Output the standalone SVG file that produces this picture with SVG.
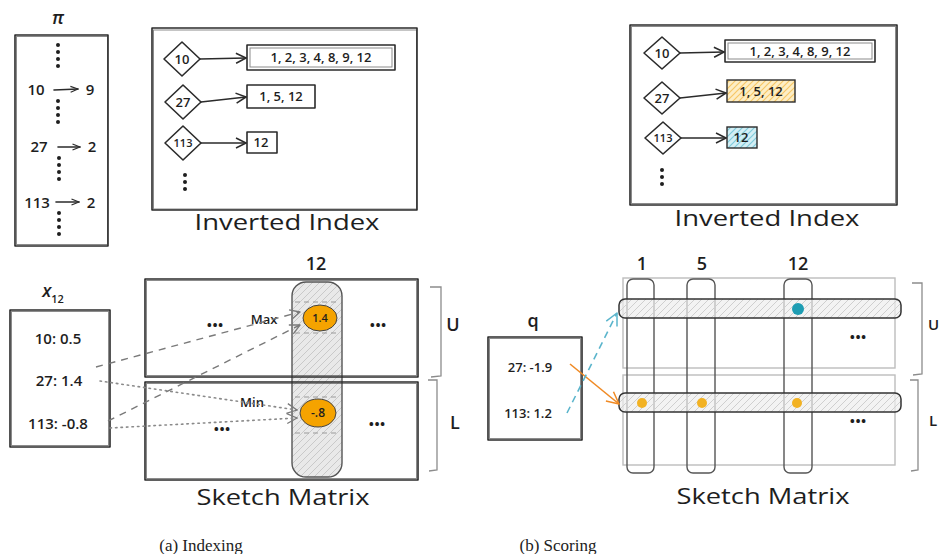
<svg xmlns="http://www.w3.org/2000/svg" width="942" height="554" viewBox="0 0 942 554">
  <defs>
    <style>
      .ln { stroke: #2b2b2b; stroke-width: 1.6; fill: none; stroke-linejoin: round; stroke-linecap: round; }
      .ln2 { stroke: #2b2b2b; stroke-width: 1; fill: none; opacity: 0.55; }
      .lg { stroke: #bdbdbd; stroke-width: 1.4; fill: none; }
      .hand { font-family: "Open Sans", "Liberation Sans", sans-serif; fill: #1e1e1e; font-weight: 600; }
      .t13 { font-size: 13px; }
      .t15 { font-size: 15px; }
      .t18 { font-size: 18px; }
      .title { font-size: 21px; font-weight: 500; }
      .dot { fill: #1e1e1e; }
      .cap { font-family: "Liberation Serif", "DejaVu Serif", serif; font-size: 17px; fill: #222; }
      .dash { stroke: #7a7a7a; stroke-width: 1.4; stroke-dasharray: 7 6; fill: none; }
      .dotted { stroke: #8a8a8a; stroke-width: 1.6; stroke-dasharray: 1.5 4; stroke-linecap: round; fill: none; }
      .tick { stroke: #9a9a9a; stroke-width: 1.2; stroke-dasharray: 5 4; }
      .brk { stroke: #8c8c8c; stroke-width: 1.3; fill: none; }
    </style>
    <pattern id="hatch" patternUnits="userSpaceOnUse" width="7" height="7">
      <rect width="7" height="7" fill="#e9e9e9"/>
      <path d="M0,7 L7,0 M-1,1 L1,-1 M6,8 L8,6" stroke="#c9c9c9" stroke-width="1"/>
    </pattern>
    <pattern id="hatchBar" patternUnits="userSpaceOnUse" width="7" height="7">
      <rect width="7" height="7" fill="#eeeeee" fill-opacity="0.7"/>
      <path d="M0,7 L7,0 M-1,1 L1,-1 M6,8 L8,6" stroke="#cfcfcf" stroke-width="1"/>
    </pattern>
    <pattern id="hatchOrange" patternUnits="userSpaceOnUse" width="6" height="6">
      <rect width="6" height="6" fill="#fdeec6"/>
      <path d="M0,6 L6,0 M-1,1 L1,-1 M5,7 L7,5" stroke="#f7c765" stroke-width="1.2"/>
    </pattern>
    <pattern id="hatchCyan" patternUnits="userSpaceOnUse" width="6" height="6">
      <rect width="6" height="6" fill="#d3eef4"/>
      <path d="M0,6 L6,0 M-1,1 L1,-1 M5,7 L7,5" stroke="#7fcbdc" stroke-width="1.2"/>
    </pattern>
    <marker id="arrow" viewBox="0 0 12 12" refX="11" refY="6" markerWidth="12" markerHeight="12" markerUnits="userSpaceOnUse" orient="auto">
      <path d="M1,1 L11,6 L1,11" fill="none" stroke="#2b2b2b" stroke-width="1.5" stroke-linejoin="round"/>
    </marker>
    <marker id="arrowSmall" viewBox="0 0 12 12" refX="11" refY="6" markerWidth="9" markerHeight="9" markerUnits="userSpaceOnUse" orient="auto">
      <path d="M1,2 L11,6 L1,10" fill="none" stroke="#2b2b2b" stroke-width="1.6" stroke-linejoin="round"/>
    </marker>
    <marker id="arrowGrey" viewBox="0 0 12 12" refX="11" refY="6" markerWidth="12" markerHeight="12" markerUnits="userSpaceOnUse" orient="auto">
      <path d="M1,1 L11,6 L1,11" fill="none" stroke="#7a7a7a" stroke-width="1.3" stroke-linejoin="round"/>
    </marker>
    <marker id="arrowOrange" viewBox="0 0 14 14" refX="13" refY="7" markerWidth="14" markerHeight="14" markerUnits="userSpaceOnUse" orient="auto">
      <path d="M1,1 L13,7 L1,13" fill="none" stroke="#f08a24" stroke-width="1.5" stroke-linejoin="round"/>
    </marker>
    <marker id="arrowCyan" viewBox="0 0 14 14" refX="13" refY="7" markerWidth="14" markerHeight="14" markerUnits="userSpaceOnUse" orient="auto">
      <path d="M1,1 L13,7 L1,13" fill="none" stroke="#5bb5cc" stroke-width="1.5" stroke-linejoin="round"/>
    </marker>
  </defs>

  <rect width="942" height="554" fill="#ffffff"/>

  <!-- ========== (a) Indexing ========== -->

  <!-- permutation pi -->
  <g id="pi-table">
    <text class="hand t18" x="58" y="24" text-anchor="middle" font-style="italic">π</text>
    <rect class="ln" x="15" y="35" width="93" height="211"/>
    <rect class="ln2" x="16.5" y="36.5" width="91" height="208"/>
    <g class="dot">
      <circle cx="58" cy="45" r="2"/><circle cx="58" cy="52" r="2"/><circle cx="58" cy="59" r="2"/><circle cx="58" cy="66" r="2"/>
      <circle cx="58" cy="101" r="2"/><circle cx="58" cy="108" r="2"/><circle cx="58" cy="115" r="2"/><circle cx="58" cy="122" r="2"/>
      <circle cx="59" cy="158" r="2"/><circle cx="59" cy="165" r="2"/><circle cx="59" cy="172" r="2"/><circle cx="59" cy="179" r="2"/>
      <circle cx="59" cy="213" r="2"/><circle cx="59" cy="220" r="2"/><circle cx="59" cy="227" r="2"/><circle cx="59" cy="234" r="2"/>
    </g>
    <text class="hand t15" x="36" y="95" text-anchor="middle">10</text>
    <line class="ln" x1="54" y1="90" x2="78" y2="89" marker-end="url(#arrowSmall)"/>
    <text class="hand t15" x="90" y="95" text-anchor="middle">9</text>
    <text class="hand t15" x="39" y="152" text-anchor="middle">27</text>
    <line class="ln" x1="58" y1="147" x2="80" y2="147" marker-end="url(#arrowSmall)"/>
    <text class="hand t15" x="92" y="152" text-anchor="middle">2</text>
    <text class="hand t15" x="37" y="208" text-anchor="middle">113</text>
    <line class="ln" x1="56" y1="202" x2="79" y2="202" marker-end="url(#arrowSmall)"/>
    <text class="hand t15" x="91" y="208" text-anchor="middle">2</text>
  </g>

  <!-- inverted index (a) -->
  <g id="inverted-index-a">
    <rect class="ln" x="152" y="28" width="265" height="182"/>
    <rect class="ln2" x="153.5" y="30" width="263" height="179"/>
    <text class="hand title" x="287" y="230" text-anchor="middle" textLength="185" lengthAdjust="spacingAndGlyphs">Inverted Index</text>
  </g>
  <g id="key-10-a">
    <polygon class="ln" points="164,59 182,42 200,59 182,76"/>
    <text class="hand t13" x="182" y="64" text-anchor="middle">10</text>
  </g>
  <g id="key-27-a">
    <polygon class="ln" points="165,102 183,85 201,102 183,119"/>
    <text class="hand t13" x="183" y="107" text-anchor="middle">27</text>
  </g>
  <g id="key-113-a">
    <polygon class="ln" points="165,143 183,126 201,143 183,160"/>
    <text class="hand" font-size="11" x="183" y="147" text-anchor="middle">113</text>
  </g>
  <g id="list-10-a">
    <rect class="ln" x="247" y="45" width="148" height="25"/>
    <rect class="ln2" x="250" y="48" width="142" height="19"/>
    <text class="hand t13" x="321" y="62" text-anchor="middle">1, 2, 3, 4, 8, 9, 12</text>
  </g>
  <g id="list-27-a">
    <rect class="ln" x="247" y="85" width="68" height="23"/>
    <text class="hand t13" x="281" y="101" text-anchor="middle">1, 5, 12</text>
  </g>
  <g id="list-113-a">
    <rect class="ln" x="247" y="132" width="30" height="21"/>
    <text class="hand t13" x="261" y="147" text-anchor="middle">12</text>
  </g>
  <g id="more-a" class="dot">
    <circle cx="185" cy="175" r="2"/><circle cx="185" cy="182" r="2"/><circle cx="185" cy="189" r="2"/>
  </g>

  <!-- sketch x_12 -->
  <g id="x12-table">
    <text class="hand t18" x="53" y="297" text-anchor="middle" font-style="italic">x<tspan font-size="11" dy="6" font-style="normal">12</tspan></text>
    <rect class="ln" x="10" y="310" width="100" height="137"/>
    <rect class="ln2" x="11.5" y="311.5" width="97" height="134"/>
    <text class="hand t15" x="58" y="344" text-anchor="middle">10: 0.5</text>
    <text class="hand t15" x="59" y="386" text-anchor="middle">27: 1.4</text>
    <text class="hand t15" x="58" y="429" text-anchor="middle">113: -0.8</text>
  </g>

  <!-- sketch matrix (a) -->
  <g id="sketch-matrix-a">
    <text class="hand t18" x="316" y="270" text-anchor="middle">12</text>
    <rect x="292" y="282" width="50" height="195" rx="14" fill="url(#hatch)" stroke="#555" stroke-width="1.4"/>
    <line class="tick" x1="295" y1="302" x2="340" y2="302"/>
    <line class="tick" x1="295" y1="333" x2="340" y2="333"/>
    <line class="tick" x1="295" y1="397" x2="340" y2="397"/>
    <line class="tick" x1="295" y1="433" x2="340" y2="433"/>
    <rect class="ln" x="145" y="279" width="273" height="98"/>
    <rect class="ln" x="145" y="382" width="273" height="98"/>
    <rect class="ln2" x="146.5" y="280.5" width="270" height="95"/>
    <rect class="ln2" x="146.5" y="383.5" width="270" height="95"/>
    <ellipse cx="320" cy="318" rx="17" ry="13" fill="#f5a300" stroke="#444" stroke-width="1"/>
    <text class="hand" font-size="11" x="320" y="322" text-anchor="middle">1.4</text>
    <ellipse cx="318" cy="413" rx="18" ry="14" fill="#f5a300" stroke="#444" stroke-width="1"/>
    <text class="hand" font-size="12" x="318" y="417" text-anchor="middle" font-weight="bold">-.8</text>
    <text class="hand t13" x="264" y="324" text-anchor="middle">Max</text>
    <text class="hand t13" x="252" y="407" text-anchor="middle">Min</text>
    <text class="hand t15" x="215" y="330" text-anchor="middle" font-weight="bold">•••</text>
    <text class="hand t15" x="378" y="330" text-anchor="middle" font-weight="bold">•••</text>
    <text class="hand t15" x="222" y="434" text-anchor="middle" font-weight="bold">•••</text>
    <text class="hand t15" x="377" y="429" text-anchor="middle" font-weight="bold">•••</text>
    <path class="brk" d="M430,287 L441,287 L441,376 L431,377"/>
    <path class="brk" d="M428,380 L437,380 L437,470 L429,471"/>
    <text class="hand t18" x="453" y="331" text-anchor="middle">U</text>
    <text class="hand t18" x="455" y="429" text-anchor="middle">L</text>
    <text class="hand title" x="283" y="505" text-anchor="middle" textLength="173" lengthAdjust="spacingAndGlyphs">Sketch Matrix</text>
  </g>

  <!-- ========== (b) Scoring ========== -->

  <!-- inverted index (b) -->
  <g id="inverted-index-b">
    <rect class="ln" x="630" y="25" width="267" height="180"/>
    <rect class="ln2" x="631.5" y="26.5" width="264" height="177"/>
    <text class="hand title" x="767" y="226" text-anchor="middle" textLength="185" lengthAdjust="spacingAndGlyphs">Inverted Index</text>
  </g>
  <g id="key-10-b">
    <polygon class="ln" points="644,53 662,37 680,53 662,69"/>
    <text class="hand t13" x="662" y="58" text-anchor="middle">10</text>
  </g>
  <g id="key-27-b">
    <polygon class="ln" points="644,98 662,82 680,98 662,114"/>
    <text class="hand t13" x="662" y="103" text-anchor="middle">27</text>
  </g>
  <g id="key-113-b">
    <polygon class="ln" points="645,138 663,122 681,138 663,154"/>
    <text class="hand" font-size="11" x="663" y="142" text-anchor="middle">113</text>
  </g>
  <g id="list-10-b">
    <rect class="ln" x="725" y="40" width="150" height="22"/>
    <rect class="ln2" x="728" y="43" width="144" height="16"/>
    <text class="hand t13" x="800" y="56" text-anchor="middle">1, 2, 3, 4, 8, 9, 12</text>
  </g>
  <g id="list-27-b">
    <rect x="727" y="80" width="68" height="22" fill="url(#hatchOrange)" stroke="#2b2b2b" stroke-width="1.4"/>
    <text class="hand t13" x="761" y="96" text-anchor="middle">1, 5, 12</text>
  </g>
  <g id="list-113-b">
    <rect x="727" y="127" width="30" height="21" fill="url(#hatchCyan)" stroke="#2b2b2b" stroke-width="1.4"/>
    <text class="hand t13" x="741" y="142" text-anchor="middle">12</text>
  </g>
  <g id="more-b" class="dot">
    <circle cx="662" cy="170" r="2"/><circle cx="662" cy="177" r="2"/><circle cx="662" cy="184" r="2"/>
  </g>

  <!-- query q -->
  <g id="query-table">
    <text class="hand t18" x="533" y="327" text-anchor="middle">q</text>
    <rect class="ln" x="488" y="337" width="94" height="103"/>
    <rect class="ln2" x="489.5" y="338.5" width="91" height="100"/>
    <text class="hand t13" x="530" y="372" text-anchor="middle">27: -1.9</text>
    <text class="hand t13" x="528" y="418" text-anchor="middle">113: 1.2</text>
  </g>

  <!-- sketch matrix (b) -->
  <g id="sketch-matrix-b">
    <rect class="lg" x="623" y="278" width="272" height="90"/>
    <rect class="lg" x="623" y="375" width="272" height="90"/>
    <text class="hand t18" x="642" y="270" text-anchor="middle">1</text>
    <text class="hand t18" x="702" y="270" text-anchor="middle">5</text>
    <text class="hand t18" x="798" y="270" text-anchor="middle">12</text>
    <rect x="627" y="279" width="27" height="194" rx="6" fill="none" stroke="#555" stroke-width="1.4"/>
    <rect x="687" y="279" width="28" height="194" rx="6" fill="none" stroke="#555" stroke-width="1.4"/>
    <rect x="784" y="279" width="28" height="194" rx="6" fill="none" stroke="#555" stroke-width="1.4"/>
    <rect x="619" y="299" width="282" height="19" rx="6" fill="url(#hatchBar)" stroke="#333" stroke-width="1.5"/>
    <rect x="619" y="393" width="282" height="19" rx="6" fill="url(#hatchBar)" stroke="#333" stroke-width="1.5"/>
    <circle cx="798" cy="309" r="6" fill="#1e9db3"/>
    <circle cx="642" cy="403" r="5" fill="#f2b223"/>
    <circle cx="702" cy="403" r="5" fill="#f2b223"/>
    <circle cx="797" cy="403" r="5" fill="#f2b223"/>
    <text class="hand t15" x="858" y="342" text-anchor="middle" font-weight="bold">•••</text>
    <text class="hand t15" x="858" y="426" text-anchor="middle" font-weight="bold">•••</text>
    <path class="brk" d="M912,283 L922,283 L922,374 L913,375"/>
    <path class="brk" d="M910,380 L918,380 L918,470 L911,471"/>
    <text class="hand" font-size="15" x="928" y="330">U</text>
    <text class="hand" font-size="15" x="929" y="426">L</text>
    <text class="hand title" x="763" y="504" text-anchor="middle" textLength="173" lengthAdjust="spacingAndGlyphs">Sketch Matrix</text>
  </g>

  <!-- connectors -->
  <g id="connectors">
    <line class="ln" x1="200" y1="59" x2="246" y2="58" marker-end="url(#arrow)"/>
    <line class="ln" x1="201" y1="102" x2="246" y2="97" marker-end="url(#arrow)"/>
    <line class="ln" x1="201" y1="143" x2="246" y2="143" marker-end="url(#arrow)"/>
    <line class="ln" x1="680" y1="53" x2="724" y2="52" marker-end="url(#arrow)"/>
    <line class="ln" x1="680" y1="98" x2="726" y2="93" marker-end="url(#arrow)"/>
    <line class="ln" x1="681" y1="138" x2="726" y2="138" marker-end="url(#arrow)"/>

    <!-- x_12 entries into the sketch column: max (dashed) and min (dotted) -->
    <line class="dash" x1="96" y1="367" x2="300" y2="312" marker-end="url(#arrowGrey)"/>
    <line class="dash" x1="108" y1="421" x2="300" y2="325" marker-end="url(#arrowGrey)"/>
    <line class="dotted" x1="100" y1="381" x2="297" y2="410" marker-end="url(#arrowGrey)"/>
    <line class="dotted" x1="110" y1="428" x2="297" y2="418" marker-end="url(#arrowGrey)"/>

    <!-- query entries into the sketch rows -->
    <line x1="570" y1="364" x2="619" y2="404" stroke="#f08a24" stroke-width="1.6" marker-end="url(#arrowOrange)"/>
    <line x1="567" y1="413" x2="617" y2="313" stroke="#5bb5cc" stroke-width="1.6" stroke-dasharray="7 5" marker-end="url(#arrowCyan)"/>
  </g>

  <!-- captions -->
  <text class="cap" x="201" y="551" text-anchor="middle">(a) Indexing</text>
  <text class="cap" x="558" y="551" text-anchor="middle">(b) Scoring</text>
</svg>
